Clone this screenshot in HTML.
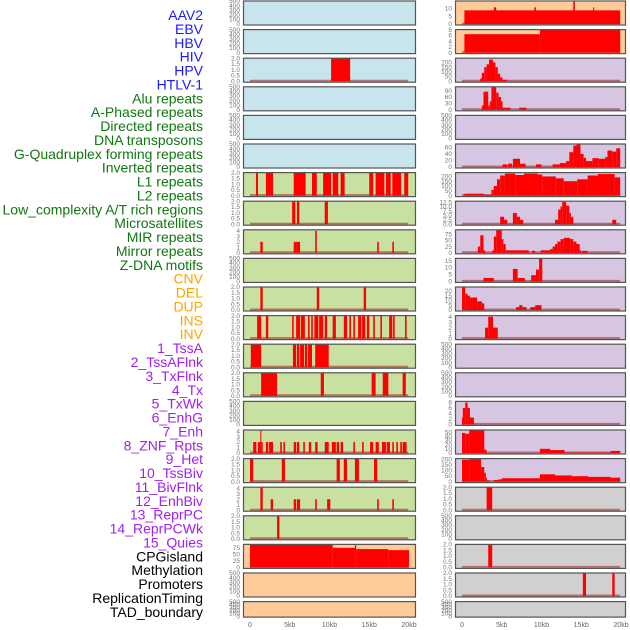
<!DOCTYPE html>
<html><head><meta charset="utf-8">
<style>
html,body{margin:0;padding:0;background:#fff;}
svg{display:block;font-family:"Liberation Sans",sans-serif;}
</style></head>
<body>
<svg id="chart" width="630" height="630" viewBox="0 0 630 630" xmlns="http://www.w3.org/2000/svg"></svg>
<script>
// ---------- data ----------
const trackLabels = ["AAV2","EBV","HBV","HIV","HPV","HTLV-1","Alu repeats","A-Phased repeats","Directed repeats","DNA transposons","G-Quadruplex forming repeats","Inverted repeats","L1 repeats","L2 repeats","Low_complexity A/T rich regions","Microsatellites","MIR repeats","Mirror repeats","Z-DNA motifs","CNV","DEL","DUP","INS","INV","1_TssA","2_TssAFlnk","3_TxFlnk","4_Tx","5_TxWk","6_EnhG","7_Enh","8_ZNF_Rpts","9_Het","10_TssBiv","11_BivFlnk","12_EnhBiv","13_ReprPC","14_ReprPCWk","15_Quies","CPGisland","Methylation","Promoters","ReplicationTiming","TAD_boundary"];
const labelColors = ["#1a1aff","#1a1aff","#1a1aff","#1a1aff","#1a1aff","#1a1aff","#117711","#117711","#117711","#117711","#117711","#117711","#117711","#117711","#117711","#117711","#117711","#117711","#117711","#ffa500","#ffa500","#ffa500","#ffa500","#ffa500","#a020f0","#a020f0","#a020f0","#a020f0","#a020f0","#a020f0","#a020f0","#a020f0","#a020f0","#a020f0","#a020f0","#a020f0","#a020f0","#a020f0","#a020f0","#000","#000","#000","#000","#000"];

const xTickValues = [0,5,10,15,20];
const xTickLabels = ["0","5kb","10kb","15kb","20kb"];

const leftBg = ["#c8e4ec","#c8e4ec","#c8e4ec","#c8e4ec","#c8e4ec","#c8e4ec","#c8e0a0","#c8e0a0","#c8e0a0","#c8e0a0","#c8e0a0","#c8e0a0","#c8e0a0","#c8e0a0","#c8e0a0","#c8e0a0","#c8e0a0","#c8e0a0","#c8e0a0","#ffcc99","#ffcc99","#ffcc99"];
const rightBg = ["#ffcc99","#ffcc99","#d6c6e2","#d6c6e2","#d6c6e2","#d6c6e2","#d6c6e2","#d6c6e2","#d6c6e2","#d6c6e2","#d6c6e2","#d6c6e2","#d6c6e2","#d6c6e2","#d6c6e2","#d6c6e2","#d6c6e2","#d0d0d0","#d0d0d0","#d0d0d0","#d0d0d0","#d0d0d0"];

const E = [0,100,200,300,400,500];
const T2 = [0,0.5,1,1.5,2];
const T4 = [0,1,2,3,4];
const leftYMax = [500,500,2,500,500,500,2,2,4.2,500,2,2,2,2,500,4.2,2,4.2,2,88,500,500];
const leftTicks = [E,E,T2,E,E,E,T2,T2,T4,E,T2,T2,T2,T2,E,T4,T2,T4,T2,[0,25,50,75],E,E];
const leftSegments = [
 [],[],
 [[10.2,12.6,2]],
 [],[],[],
 [[0.75,1.0,2],[2.0,2.9,2],[5.5,7.0,2],[7.8,8.4,2],[9.2,10.2,2],[10.4,11.1,2],[11.4,11.9,2],[15.0,15.5,2],[15.8,16.9,2],[17.1,17.7,2],[17.9,19.0,2],[19.4,19.9,2]],
 [[5.3,5.7,2],[5.9,6.2,2],[9.4,9.8,2]],
 [[1.3,1.6,2],[5.5,5.9,2],[5.9,6.3,2],[8.2,8.4,4],[16.0,16.2,2],[17.9,18.1,2]],
 [],
 [[1.3,1.6,2],[8.4,8.7,2],[14.3,14.6,2]],
 [[0.9,1.4,2],[2.0,2.3,2],[5.3,5.5,2],[5.8,6.3,2],[6.4,6.9,2],[7.3,7.5,2],[7.7,7.9,2],[8.1,8.6,2],[8.7,9.2,2],[9.4,9.7,2],[10.4,10.8,2],[11.8,12.2,2],[12.5,12.7,2],[13.0,13.2,2],[13.6,14.0,2],[14.1,14.5,2],[14.7,15.0,2],[15.5,15.7,2],[16.4,16.6,2],[17.5,17.9,2],[18.0,18.2,2],[19.5,19.7,2]],
 [[0.1,1.4,2],[5.4,5.8,2],[5.9,6.2,2],[6.3,6.8,2],[6.9,7.2,2],[7.3,7.8,2],[8.2,9.9,2]],
 [[1.4,3.4,2],[8.9,9.3,2],[15.3,15.8,2],[16.7,17.4,2],[19.2,19.6,2]],
 [],
 [[0.4,0.8,2],[1.0,1.3,2],[1.3,1.4,4.2],[1.4,1.6,2],[2.0,2.3,2],[2.4,2.9,2],[3.8,4.0,2],[4.2,4.4,2],[5.5,5.8,2],[5.9,6.2,2],[6.7,6.9,2],[7.4,7.7,2],[8.2,8.5,2],[9.4,9.9,2],[10.3,10.8,2],[10.9,11.2,2],[11.4,11.7,2],[13.0,13.2,2],[14.1,14.3,2],[15.1,15.5,2],[15.8,16.2,2],[16.6,17.1,2],[17.2,17.6,2],[17.9,18.1,2],[18.4,18.6,2],[18.9,19.1,2],[19.2,19.7,2]],
 [[0,0.4,2],[4.0,4.4,2],[10.9,11.3,2],[11.8,12.2,2],[13.2,13.7,2],[15.6,16.0,2]],
 [[1.3,1.6,4.2],[2.6,2.9,2],[5.5,5.8,2],[5.9,6.3,2],[8.2,8.4,2],[9.7,10.1,2],[16.0,16.2,2],[17.9,18.1,2]],
 [[3.4,3.7,2]],
 [[0,10.4,88],[10.4,13.2,75],[13.2,13.35,88],[13.35,17.4,70],[17.4,20,66]],
 [],[]
];

const rightYMax = [14.5,8,245,108,500,70,240,13,92,16.6,24,4.2,500,500,8.4,55,205,2,500,2,2,500];
const rightTicks = [[0,5,10],[0,2,4,6,8],[0,50,100,150,200],[0,30,60,90],E,[0,20,40,60],[0,50,100,150,200],[0,2.5,5,7.5,10,12.5],[0,25,50,75],[0,5,10,15],[0,5,10,15,20],T4,E,E,[0,2,4,6,8],[0,10,20,30,40,50],[0,50,100,150,200],T2,E,T2,T2,E];
const rightSegments = [
 [[0.3,19.9,8.6],[4.0,4.3,10.5],[9.1,9.3,10.5],[14.0,14.2,14.5],[16.5,16.6,10.5]],
 [[0.3,9.8,6.4],[9.8,19.9,8]],
 [[2.3,2.5,30],[2.5,2.8,90],[2.8,3.1,150],[3.1,3.4,180],[3.4,3.9,230],[3.9,4.2,200],[4.2,4.5,150],[4.5,4.8,80],[4.8,5.1,40],[5.1,5.7,15]],
 [[2.5,2.7,20],[2.7,3.3,85],[3.3,3.5,20],[3.5,3.7,40],[3.7,4.3,108],[4.3,4.6,80],[4.6,4.9,60],[4.9,5.1,40],[5.1,6.1,10],[7.2,8.1,10]],
 [],
 [[5.1,5.7,8],[5.8,6.3,10],[6.4,7.3,25],[7.3,8.0,10],[9.3,10.0,8],[11.4,12.3,8],[12.3,13.1,12],[13.1,13.5,18],[13.5,14.0,45],[14.0,14.4,65],[14.4,14.9,70],[14.9,15.3,40],[15.3,15.6,28],[15.6,16.4,18],[16.4,17.2,27],[17.2,18.0,25],[18.0,18.3,30],[18.3,18.9,50],[18.9,19.4,47],[19.4,19.9,57]],
 [[0.3,2.7,20],[2.7,3.7,10],[3.7,4.0,60],[4.0,4.4,100],[4.4,4.8,170],[4.8,5.4,210],[5.4,6.7,230],[6.7,7.8,215],[7.8,9.5,230],[9.5,10.1,220],[10.1,11.8,200],[11.8,12.8,180],[12.8,14.5,150],[14.5,15.8,170],[15.8,17.1,210],[17.1,19.2,225],[19.2,19.9,190]],
 [[4.8,5.3,4.2],[5.3,5.7,2.5],[6.4,6.9,6.3],[6.9,7.3,4.2],[7.3,7.7,2.5],[11.7,12.1,2.5],[12.1,12.4,8.3],[12.4,12.6,10],[12.6,13.1,12.5],[13.1,13.5,10.5],[13.5,13.7,6.3],[13.7,14.0,4.2],[18.9,19.4,2.5]],
 [[2.0,2.3,25],[2.3,2.7,70],[2.7,2.9,10],[3.8,4.0,10],[4.0,4.3,65],[4.3,5.0,90],[5.0,5.2,55],[5.2,5.5,35],[5.5,8.4,10],[8.8,9.2,8],[9.9,11.1,10],[11.1,11.4,15],[11.4,11.7,25],[11.7,12.0,35],[12.0,12.4,45],[12.4,12.8,55],[12.8,13.6,60],[13.6,14.0,55],[14.0,14.4,45],[14.4,14.8,35],[14.8,15.0,10],[15.1,15.8,8]],
 [[2.7,4.0,2.5],[6.4,7.0,9],[7.0,7.9,2.5],[8.7,9.3,4.5],[9.3,9.7,8.5],[9.7,10.1,16.5]],
 [[0,0.4,24],[0.4,0.7,17],[0.7,1.0,15],[1.0,1.9,13],[1.9,2.5,9],[2.5,2.8,7],[6.8,7.2,3],[7.2,7.6,5],[7.6,8.1,3],[8.6,9.2,3],[9.2,10.0,5]],
 [[2.9,3.3,2],[3.3,3.9,4],[3.9,4.5,2]],
 [],[],
 [[0,0.1,2.5],[0.1,0.4,6],[0.4,0.7,8],[0.7,1.0,6],[1.0,1.5,2.5]],
 [[0,0.4,48],[0.4,0.9,46],[0.9,2.8,55],[2.8,3.1,8],[9.8,11.1,10],[11.1,12.9,7],[12.9,18.7,1],[18.7,19.9,5]],
 [[0,0.9,195],[0.9,2.4,200],[2.4,2.8,130],[2.8,3.0,80],[3.0,3.1,35],[3.1,3.5,10],[4.0,4.6,15],[4.6,5.0,20],[5.0,9.8,30],[9.8,11.7,65],[11.7,13.8,55],[13.8,15.9,48],[15.9,18.7,42],[18.7,19.9,35]],
 [[3.1,3.8,2]],
 [],
 [[3.3,3.8,2]],
 [[15.2,15.6,2],[18.9,19.2,2]],
 []
];

// ---------- rendering ----------
const NS = "http://www.w3.org/2000/svg";
const svg = document.getElementById("chart");
function mk(tag, attrs, parent){
  const e = document.createElementNS(NS, tag);
  for (const k in attrs) e.setAttribute(k, attrs[k]);
  (parent||svg).appendChild(e);
  return e;
}
const KB = 7.95;
const cols = [
  {x0:243, x1:416, zero:250, tickRight:240, bg:leftBg, ymax:leftYMax, ticks:leftTicks, segs:leftSegments, side:"left"},
  {x0:455, x1:626, zero:462, tickRight:452, bg:rightBg, ymax:rightYMax, ticks:rightTicks, segs:rightSegments, side:"right"}
];
function rowTop(i){ return i*28.6 + 0.5; }
function rowH(i){ return i===21 ? 16.5 : 25; }

trackLabels.forEach((t,i)=>{
  const tx = mk("text",{x:203,y:20+i*13.88,"text-anchor":"end","font-size":"14",fill:labelColors[i]});
  tx.textContent = t;
  
  
});

cols.forEach(c=>{
  const xs = kb => c.zero + kb*KB;
  for (let i=0;i<22;i++){
    const top = rowTop(i), h = rowH(i), bottom = top+h-1.5;
    const innerTop = top+0.5;
    const ys = v => bottom - (v/c.ymax[i])*(bottom-innerTop);
    const g = mk("g",{});
    
    
    const bg = mk("rect",{x:c.x0,y:top,width:c.x1-c.x0,height:h,fill:c.bg[i]},g);
    
    
    const segs = c.segs[i];
    if (segs.length){
      const bl = mk("line",{x1:xs(0),x2:xs(19.9),y1:bottom-0.5,y2:bottom-0.5,stroke:"rgba(160,30,30,0.55)","stroke-width":2},g);
      
      
    }
    segs.forEach(s=>{
      const yv = Math.max(ys(s[2]), innerTop);
      const r = mk("rect",{x:xs(s[0]),y:yv,width:Math.max(xs(s[1])-xs(s[0]),1),height:bottom-yv,fill:"#ff0000"},g);
      
      
    });
    const fr = mk("rect",{x:c.x0+0.5,y:top+0.5,width:c.x1-c.x0-1,height:h-1,fill:"none",stroke:"#555","stroke-width":1.2},g);
    
    
    const tk = c.ticks[i];
    const dec = tk.some(v=>v%1!==0);
    tk.forEach(v=>{
      const t = mk("text",{x:c.tickRight,y:ys(v)+2.2,"text-anchor":"end","font-size":"6.5",fill:"#777"},g);
      t.textContent = dec ? v.toFixed(1) : String(v);
      
      
    });
  }
  xTickValues.forEach((v,k)=>{
    const t = mk("text",{x:xs(v),y:627,"text-anchor":"middle","font-size":"7",fill:"#666"});
    t.textContent = xTickLabels[k];
    
    
  });
});
</script>
</body></html>
